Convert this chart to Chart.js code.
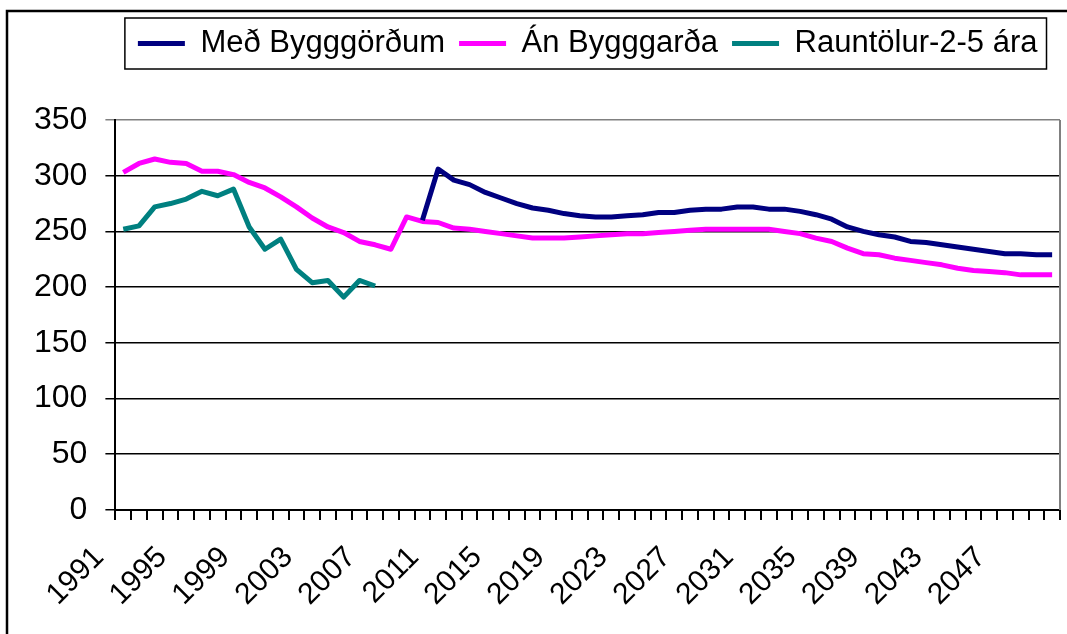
<!DOCTYPE html>
<html>
<head>
<meta charset="utf-8">
<script src="https://cdn.jsdelivr.net/npm/chart.js@4"></script>
<style>
  body { margin: 0; background: #fff; }
  #wrap { width: 1067px; height: 634px; }
</style>
</head>
<body>
<div id="wrap"><canvas id="projChart"></canvas></div>
<script>
// years 1991 - 2050
const years = [];
for (let y = 1991; y <= 2050; y++) years.push(String(y));

const medBygg = [
    null, null, null, null, null, null, null, null, null, null,
    null, null, null, null, null, null, null, null, null, 260,
    306, 296, 292, 285, 280, 275, 271, 269, 266, 264,
    263, 263, 264, 265, 267, 267, 269, 270, 270, 272,
    272, 270, 270, 268, 265, 261, 254, 250, 247, 245,
    241, 240, 238, 236, 234, 232, 230, 230, 229, 229
];
const anBygg = [
    303, 311, 315, 312, 311, 304, 304, 301, 294, 289,
    281, 272, 262, 254, 249, 241, 238, 234, 263, 259,
    258, 253, 252, 250, 248, 246, 244, 244, 244, 245,
    246, 247, 248, 248, 249, 250, 251, 252, 252, 252,
    252, 252, 250, 248, 244, 241, 235, 230, 229, 226,
    224, 222, 220, 217, 215, 214, 213, 211, 211, 211
];
const rauntolur = [
    252, 255, 272, 275, 279, 286, 282, 288, 254, 234,
    243, 216, 204, 206, 191, 206, 201
];

const font = 'Liberation Sans, Arial, sans-serif';

// right plot border, legend frame and outer frame
const framePlugin = {
    id: 'frames',
    afterDraw(chart) {
        const ctx = chart.ctx;
        const a = chart.chartArea;
        ctx.save();
        ctx.strokeStyle = '#808080';
        ctx.lineWidth = 2;
        ctx.beginPath();
        ctx.moveTo(a.right, a.top);
        ctx.lineTo(a.right, a.bottom);
        ctx.stroke();

        const boxes = chart.legend.legendHitBoxes;
        if (boxes && boxes.length) {
            const first = boxes[0], last = boxes[boxes.length - 1];
            const cy = first.top + first.height / 2;
            const x0 = first.left - 13, x1 = last.left + last.width + 9;
            ctx.strokeStyle = '#000';
            ctx.lineWidth = 1.5;
            ctx.strokeRect(x0, cy - 25.5, x1 - x0, 51);
        }

        ctx.strokeStyle = '#000';
        ctx.lineWidth = 2.5;
        ctx.strokeRect(7, 11, 1200, 800);
        ctx.restore();
    }
};

const ctx = document.getElementById('projChart').getContext('2d');
const projChart = new Chart(ctx, {
    type: 'line',
    data: {
        labels: years,
        datasets: [{
            label: 'Með Bygggörðum',
            data: medBygg,
            borderColor: '#000080',
            backgroundColor: '#000080',
            borderWidth: 5
        }, {
            label: 'Án Bygggarða',
            data: anBygg,
            borderColor: '#FF00FF',
            backgroundColor: '#FF00FF',
            borderWidth: 5
        }, {
            label: 'Rauntölur-2-5 ára',
            data: rauntolur,
            borderColor: '#008080',
            backgroundColor: '#008080',
            borderWidth: 5
        }]
    },
    options: {
        responsive: true,
        maintainAspectRatio: false,
        animation: false,
        layout: {
            padding: { top: 14, left: 16, right: 7, bottom: 1.4 }
        },
        elements: {
            point: { radius: 0, hoverRadius: 0 },
            line: { tension: 0, borderJoinStyle: 'round' }
        },
        scales: {
            x: {
                offset: true,
                grid: {
                    offset: true,
                    drawOnChartArea: false,
                    drawTicks: true,
                    tickLength: 10,
                    color: '#000',
                    lineWidth: 2
                },
                border: { color: '#000', width: 2 },
                ticks: {
                    autoSkip: false,
                    minRotation: 45,
                    maxRotation: 45,
                    padding: 20,
                    labelOffset: -24,
                    color: '#000',
                    font: { family: font, size: 30 },
                    callback: function (value, index) {
                        return index % 4 === 0 ? years[index] : '';
                    }
                },
                afterFit: function (scale) {
                    scale.paddingLeft = 0;
                    scale.paddingRight = 0;
                }
            },
            y: {
                min: 0,
                max: 350,
                grid: {
                    color: function (c) {
                        return c.tick && c.tick.value === 350 ? '#808080' : '#000';
                    },
                    lineWidth: 1.5,
                    tickLength: 10
                },
                border: { color: '#000', width: 2 },
                ticks: {
                    stepSize: 50,
                    padding: 18,
                    color: '#000',
                    font: { family: font, size: 32 }
                }
            }
        },
        plugins: {
            legend: {
                position: 'top',
                fullSize: false,
                weight: 3000,
                labels: {
                    usePointStyle: true,
                    pointStyle: 'line',
                    pointStyleWidth: 47,
                    padding: 14,
                    color: '#000',
                    font: { family: font, size: 31 }
                }
            },
            // empty title used as spacer between legend and plot
            title: {
                display: true,
                text: '',
                fullSize: false,
                font: { size: 10, lineHeight: 1 },
                padding: { top: 41, bottom: 0 }
            },
            tooltip: { enabled: false }
        }
    },
    plugins: [framePlugin]
});
</script>
</body>
</html>
